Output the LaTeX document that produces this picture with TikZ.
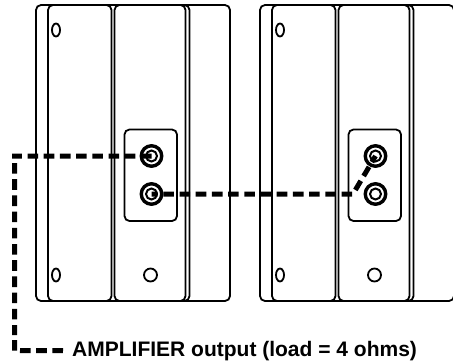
\documentclass[tikz,border=0pt]{standalone}
\usepackage{fontspec}
\setmainfont{Liberation Sans}
\tikzset{
	box/.style={line width=1.8pt, rounded corners=5pt},
	hole/.style={draw, ellipse, line width=1.8pt, minimum width=8pt, minimum height=13pt, inner sep=0pt},
	screw/.style={draw, circle, line width=1.8pt, minimum size=13pt, inner sep=0pt},
	jack/.style={draw, circle, line width=3.4pt, minimum size=20.5pt, inner sep=0pt, path picture={\draw[line width=2pt] (path picture bounding box.center) circle (5.5pt);}},
	wire/.style={line width=5pt, dash pattern=on 10.6pt off 5.6pt}
}
\usetikzlibrary{shapes.geometric}
\begin{document}
\begin{tikzpicture}[x=1pt, y=-1pt]
\useasboundingbox (0,0) rectangle (453,364);
\foreach \n/\dx in {l/0, r/224}
{
	\begin{scope}[xshift=\dx pt]
		\draw[box] (36,5) rectangle (230,301);
		\draw[box] (48,5) rectangle (111.5,301);
		\draw[box] (114.5,5) rectangle (185.5,301);
		\draw[box] (183,5) -- (189.5,5) -- (189.5,301) -- (183,301);
		\draw[box] (124.5,129.5) rectangle (177,221);
		\node[hole] (top\n) at (56,30) {};
		\node[hole] (bot\n) at (56,275) {};
		\node[screw] (scr\n) at (150.5,275) {};
		\node[jack] (up\n) at (151.5,156) {};
		\node[jack] (dn\n) at (151.5,194) {};
	\end{scope}
}
\node[anchor=base west, inner sep=0pt, font=\bfseries\fontsize{21}{25}\selectfont] (amp) at (72,356) {AMPLIFIER output (load = 4 ohms)};
\coordinate (corner) at (12,156);
\coordinate (drop) at (14.6,163);
\coordinate (dropend) at (14.6,335);
\coordinate (hook) at (14.6,340);
\coordinate (foot) at (14.6,353.5);
\coordinate (run) at (20,350.5);
\coordinate (runend) at ([xshift=-9pt]amp.west);
\coordinate (bend) at (353,194);
\draw[wire] (upl.center) -- (corner) (drop) -- (dropend) (hook) -- (foot) (run) -- (runend);
\draw[wire, dash phase=4.4pt] (dnl.center) -- (bend) -- (upr.center);
\end{tikzpicture}
\end{document}
